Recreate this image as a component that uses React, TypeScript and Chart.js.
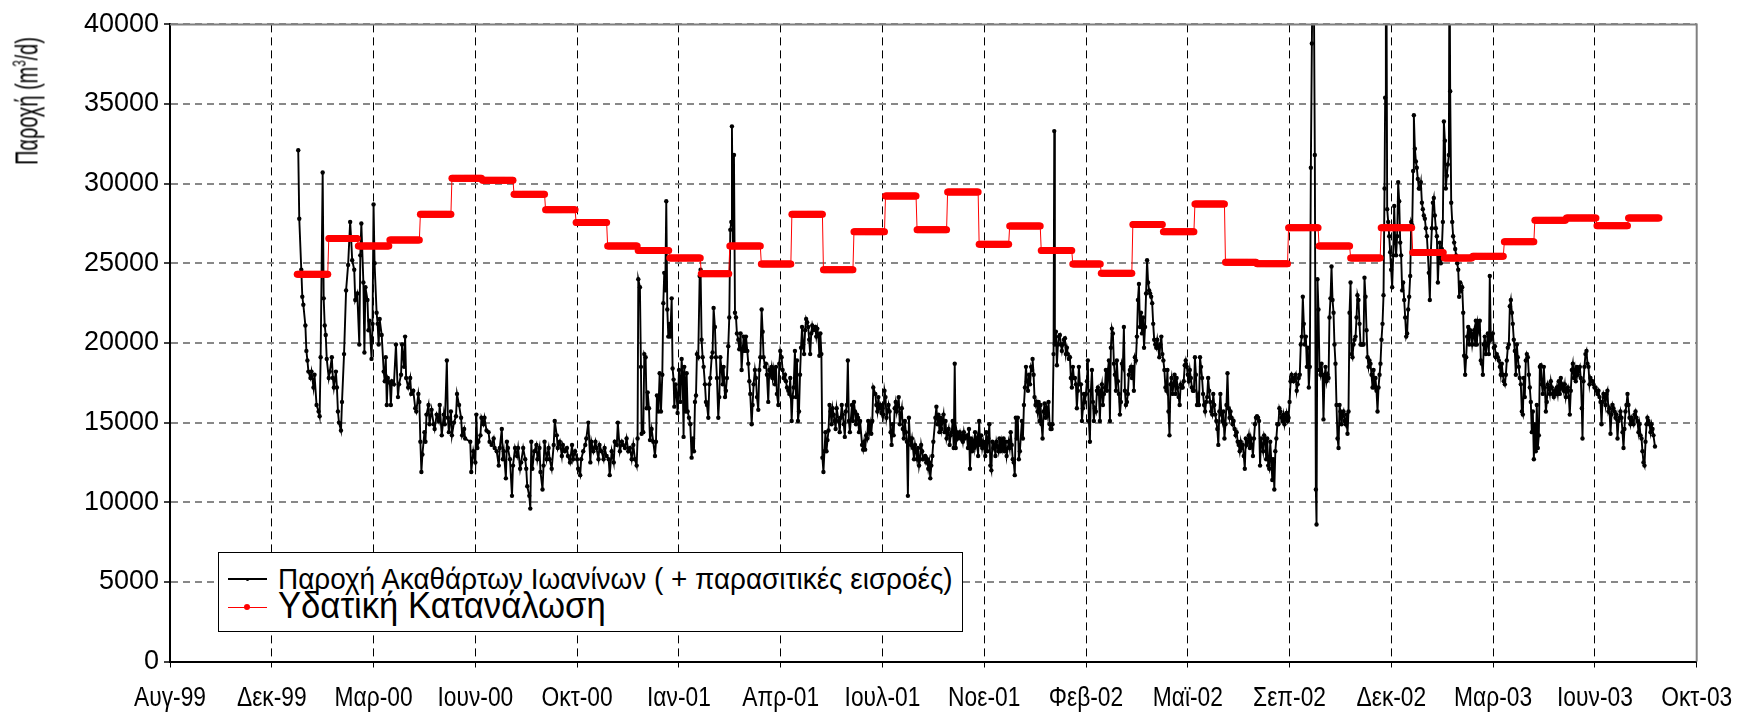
import React, { useEffect, useRef } from 'react';
import { Chart, registerables } from 'chart.js';

Chart.register(...registerables);

// x axis: days counted from 29 Aug 1999 (Excel date axis, major unit 100 days)
const AXIS_START_UTC = Date.UTC(1999, 7, 29);
const xTickLabels = ['Αυγ-99', 'Δεκ-99', 'Μαρ-00', 'Ιουν-00', 'Οκτ-00', 'Ιαν-01', 'Απρ-01', 'Ιουλ-01', 'Νοε-01', 'Φεβ-02', 'Μαϊ-02', 'Σεπ-02', 'Δεκ-02', 'Μαρ-03', 'Ιουν-03', 'Οκτ-03'];
const xTickStepDays = 100;
const yTickValues = [0, 5000, 10000, 15000, 20000, 25000, 30000, 35000, 40000];

const seriesFlowLabel = 'Παροχή Ακαθάρτων Ιωανίνων ( + παρασιτικές εισροές)';
const seriesWaterLabel = 'Υδατική Κατανάλωση';

// Monthly water consumption (m3/d), Jan 2000 – Aug 2003
const consumption2000 = [24320, 26560, 26080, 26460, 28080, 30340, 30210, 29340, 28360, 27570, 26080, 25810];
const consumption2001 = [25330, 24340, 26080, 24960, 28080, 24590, 26980, 29220, 27100, 29480, 26200, 27340];
const consumption2002 = [25800, 24960, 24370, 27430, 26980, 28730, 25060, 24970, 27240, 26080, 25330, 27240];
const consumption2003 = [25680, 25330, 25450, 26350, 27700, 27850, 27360, 27850];

// Daily sewage flow (m3/d): [day since 29 Aug 1999, value]
const flowJan00Jun00: [number, number][] = [[126,32100],[127,27800],[129,24600],[130,22900],[131,22400],[133,21100],[134,19500],[135,18900],[136,18200],[138,17800],[139,18200],[141,17200],[142,18000],[144,16100],[146,15700],[147,15400],[148,19100],[150,30700],[151,22800],[152,21100],[153,20500],[154,19000],[156,17800],[157,18200],[159,19100],[160,17800],[161,17200],[163,18200],[164,17200],[165,15700],[166,15000],[168,14500],[169,16300],[171,19300],[173,23300],[175,24900],[177,27600],[178,26500],[179,25200],[181,24600],[182,22700],[184,23100],[186,19900],[187,25500],[188,27500],[190,23800],[191,19400],[192,23500],[194,22700],[195,20800],[196,21400],[198,19000],[199,21200],[200,28700],[201,25000],[203,21900],[204,21200],[205,19900],[206,21500],[208,20500],[210,18200],[211,17600],[212,19100],[213,16100],[214,17800],[216,17500],[217,16100],[218,17600],[220,17400],[222,19900],[224,16600],[225,17400],[227,18000],[228,19900],[230,18500],[231,20400],[232,17800],[234,17200],[236,17800],[237,16800],[239,17000],[241,15900],[242,15700],[244,16800],[245,16300],[246,13800],[247,11900],[248,13000],[250,14400],[251,13800],[252,15500],[254,16100],[255,14900],[257,15800],[259,14900],[260,14600],[262,15500],[264,15100],[265,16100],[267,14200],[269,15500],[270,14900],[272,18900],[273,15300],[274,14400],[276,15700],[277,14200],[279,15000],[281,15400],[282,16800],[284,16100],[286,15300],[287,14200],[289,14600],[290,14000]];
const flowJun00Nov00: [number, number][] = [[295,13800],[296,11900],[298,13200],[300,12500],[301,15500],[302,13400],[303,13800],[305,14200],[306,15300],[308,14900],[309,15300],[311,14500],[313,14400],[314,13800],[316,13600],[318,14000],[319,13400],[321,13200],[323,12300],[324,13400],[326,14600],[327,12700],[328,13200],[330,11500],[331,13800],[332,13400],[334,12700],[336,10400],[337,12300],[339,13400],[341,12900],[342,13400],[344,12100],[345,12500],[347,13400],[349,12700],[350,12100],[351,11000],[353,10400],[354,9600],[355,13800],[356,12100],[358,13200],[360,13600],[361,12700],[363,13400],[364,11900],[366,10800],[367,12300],[368,13800],[370,12700],[372,13400],[373,12700],[375,12100],[377,13600],[378,15100],[380,14200],[381,13400],[383,13800],[385,12900],[386,13600],[388,13200],[390,13400],[391,12900],[393,12500],[395,13600],[396,12700],[398,13200],[400,12700],[401,12100],[403,11700],[404,12700],[406,13200],[408,13600],[409,14000],[411,15000],[413,12500],[414,13800],[416,13200],[418,13800],[419,13400],[421,12700],[422,13600],[424,13200],[426,12700],[427,13400],[429,12900],[431,12700],[432,11700],[434,13200],[436,12500],[437,13800],[439,13600],[440,15000],[442,13200],[444,13800],[445,13600],[447,13400]];
const flowNov00May01: [number, number][] = [[448.6,14000],[450.3,13200],[451.9,13400],[453.6,12700],[455.2,13600],[456.8,12700],[458.5,12300],[459.4,14000],[460.1,24000],[461.7,23500],[462.7,18500],[463.4,14300],[465,14400],[466,19300],[467.3,19100],[468.3,15900],[469.3,16900],[470.6,15900],[471.6,13900],[473.2,14600],[474.8,13800],[476.5,12900],[477.5,13800],[478.4,16700],[479.8,15700],[481.1,18100],[482.4,15700],[483.7,18000],[484.7,22500],[485.6,24400],[486.6,23300],[487.6,28900],[488.6,22100],[489.6,20400],[490.6,21200],[491.5,20400],[492.9,22800],[493.8,18400],[494.8,17700],[495.5,16000],[496.8,17400],[497.8,16700],[498.7,15600],[500.1,18300],[501.4,16300],[502.7,19000],[503.7,17800],[504.6,14100],[505.3,18500],[506.6,15700],[507.6,18100],[508.6,15700],[509.9,15300],[511.2,14900],[512.5,12800],[513.8,14000],[514.8,13200],[515.8,16300],[516.8,16700],[517.7,19300],[519,19100],[520.4,24200],[521.3,24600],[522.3,20200],[523.3,19100],[524.3,18500],[525.6,17400],[526.6,16300],[527.6,16100],[528.9,15300],[529.9,17400],[530.8,17800],[532.2,19100],[533.1,19400],[534.1,22200],[535.4,21000],[536.4,19100],[537.4,17800],[538.7,15300],[539.7,16600],[540.7,19100],[542,18300],[543,17400],[543.9,18500],[545.3,16600],[546.2,17000],[547.2,17800],[548.5,19800],[549.5,21600],[550.5,27100],[551.5,27600],[552.1,33600],[553.1,26100],[554.1,31800],[555.1,21900],[556.1,21600],[557,20600],[558.4,20200],[559.3,19600],[560.6,20600],[561.6,18300],[562.6,19500],[563.6,20400],[564.9,19500],[565.9,20400],[567.2,19500],[568.2,18700],[569.2,17600],[570.1,16800],[571.5,14900],[572.4,16100],[573.4,17400],[574.7,18300],[575.7,17800],[576.7,16600],[578,15800],[579,18300],[580,19100],[581.3,22100],[582.3,20700],[583.2,19100],[584.6,18500],[585.5,18700],[586.5,18000],[587.8,16300],[588.8,18300],[589.8,18000],[591.1,18500],[592.1,17800],[593.1,18300],[594.4,17400],[595.4,18500],[596.3,16800],[597.7,16100],[598.6,18700],[599.6,19500],[600.9,19100],[601.9,18300],[602.9,17800],[604.2,18000],[605.2,17600],[606.2,17200],[607.5,17000],[608.5,16800],[609.4,17800],[610.8,15100],[611.7,16600],[612.7,17200],[614,19500]];
const flowMay01Oct01: [number, number][] = [[615,16600],[616,18900],[617,15100],[618,15700],[619,18000],[620,19700],[621,21000],[622,19900],[623,19300],[624,20800],[625,21500],[626,21300],[627,21000],[628,20200],[629,19300],[630,20600],[631,21100],[632,20800],[634,21000],[635,20400],[636,20900],[637,20500],[638,19200],[639,20600],[640,19300],[641,12800],[642,11900],[643,13200],[644,14400],[645,13200],[646,13900],[647,14500],[648,16100],[649,15700],[650,14900],[651,15900],[652,15500],[653,15100],[654,14600],[655,15900],[657,15100],[658,14400],[659,15300],[660,16100],[661,15500],[662,14900],[663,14100],[664,15700],[665,16100],[666,18900],[667,15100],[668,14400],[670,16100],[671,15100],[672,16300],[673,15700],[674,14900],[675,15500],[676,15300],[677,14400],[678,15100],[680,13600],[681,13300],[682,13800],[683,13300],[684,14200],[685,14000],[686,15100],[687,14400],[688,14900],[689,14300],[690,15100],[691,17200],[693,16800],[694,16100],[695,15700],[696,16600],[697,15900],[698,16100],[699,15600],[700,15900],[701,15500],[702,17000],[703,16600],[704,15300],[706,16100],[707,15700],[708,14400],[709,13600],[710,14900],[711,14200],[712,15900],[713,16300],[714,15700],[716,16600],[717,14900],[718,15500],[719,15900],[720,14600],[721,14000],[722,15100],[723,14400],[724,13800],[725,10400],[726,15300],[727,14000],[728,13600],[729,14000],[730,13400],[731,12700],[732,13600],[733,13200],[734,12700],[735,13400],[736,12300],[737,12700],[738,13600],[739,13200],[740,12700],[742,12900],[743,12500],[744,12700],[745,12100],[746,12500],[747,11500],[748,12300],[749,12900],[750,13800],[752,15300],[753,16000],[754,14900],[755,15500],[756,14400],[757,15300],[758,14600],[759,15100],[760,15500],[761,14400],[762,15100],[763,14000],[765,14600],[766,13600],[767,14200],[768,14400],[769,15100],[770,13400],[771,18700],[772,13400],[773,14400],[774,14000],[775,14200],[776,14400],[777,14000],[778,14200],[779,13800],[780,14400],[781,14000]];
const flowOct01Apr02: [number, number][] = [[783,14200],[784,13400],[785,14600],[786,12100],[787,14000],[788,13200],[789,13800],[790,13400],[791,14400],[792,13600],[793,14000],[794,12900],[795,15100],[796,13600],[797,14200],[798,13400],[799,13800],[801,12900],[802,14400],[803,13200],[804,14000],[805,14900],[806,12300],[807,12000],[808,13800],[809,13400],[810,13600],[811,12900],[812,13800],[814,13200],[815,14000],[816,13200],[817,13800],[818,13400],[819,14000],[820,13200],[821,13800],[822,12900],[824,13800],[825,13400],[826,14400],[827,13600],[828,12700],[829,12500],[830,11700],[831,15300],[832,14000],[833,15300],[834,12700],[835,13200],[837,15100],[838,14000],[839,16100],[840,17200],[841,18500],[842,17600],[843,17000],[844,18000],[845,17400],[846,18500],[847,18300],[847.5,19000],[848.5,18000],[849.4,16600],[850.4,16100],[851.4,16300],[852.4,15700],[853.4,16300],[854.4,15100],[855.3,16100],[856.3,14900],[857.3,14000],[858.3,15700],[859.3,16200],[860.3,15300],[861.2,15900],[862.2,15500],[863.2,16300],[864.2,14900],[865.2,14600],[866.2,14600],[867.1,14900],[868.1,19300],[868.8,33300],[869.4,19900],[870.4,20700],[871.4,18600],[872.4,19900],[873.4,20400],[874.3,20500],[875.3,19900],[876.3,19500],[877.3,19900],[878.3,20200],[879.3,20300],[880.2,19300],[881.2,19700],[882.2,19300],[883.2,19000],[884.2,19100],[885.1,17800],[886.1,17200],[887.1,18500],[888.1,17800],[889.1,17800],[890.1,17400],[891,15900],[892,17000],[893,18500],[894,17400],[895,17400],[896,15100],[897,15900],[897.9,16800],[898.9,16300],[899.9,16800],[900.9,17600],[901.8,18900],[902.8,15100],[903.8,13800],[904.8,17000],[905.8,18300],[906.8,16300],[907.7,15100],[908.7,15900],[909.7,15700],[910.7,17000],[911.7,17200],[912.7,16800],[913.6,15100],[914.6,17000],[915.6,17400],[916.6,16100],[917.6,16800],[918.6,17200],[919.5,18300],[920.5,17000],[921.5,18300],[922.5,18900],[923.5,15100],[924.4,19700],[925.4,20900],[926.4,20600],[927.4,18700],[928.4,18000],[929.4,17000],[930.3,18900],[931.3,17600],[932.3,16800],[933.3,15500],[934.3,16300],[935.3,18700],[936.2,18500],[937.2,21000],[938.2,17000],[939.2,16100],[940.2,16300],[941.1,16800],[942.1,18000],[943.1,18300],[944.1,18500],[945.1,17800],[946,18500],[947,17000],[948,19100]];
const flowApr02Sep02: [number, number][] = [[949,18900],[950,20400],[951,22700],[952,23700],[953,21000],[954,21900],[955,20600],[956,21600],[957,19700],[958,21000],[959,23100],[960,25200],[961,23800],[962,23300],[963,23100],[964,22900],[965,22500],[966,21200],[967,20200],[968,19900],[969,19700],[970,20200],[971,19700],[972,19100],[973,19900],[974,20400],[975,19300],[976,18900],[977,18300],[978,17200],[979,17000],[980,18300],[981,15700],[982,14200],[983,17400],[984,17800],[985,16800],[986,17400],[987,18000],[988,16800],[989,17800],[990,17200],[991,16600],[992,16100],[993,17400],[994,17200],[995,17200],[996,17600],[997,18600],[998,18900],[999,18500],[1000,18000],[1001,17600],[1002,18300],[1003,17800],[1004,17200],[1005,17000],[1006,17000],[1007,19100],[1008,18000],[1009,16100],[1010,16600],[1011,16100],[1012,19100],[1013,18500],[1014,17800],[1015,16800],[1016,16100],[1017,15700],[1018,16300],[1019,16600],[1020,17800],[1021,17000],[1022,16300],[1023,15700],[1024,15500],[1025,16800],[1026,16100],[1027,15500],[1028,15100],[1029,14600],[1030,13600],[1031,15700],[1032,16800],[1033,15500],[1034,15100],[1035,15700],[1036,14000],[1037,14900],[1038,16100],[1039,18100],[1040,15900],[1041,15300],[1042,15700],[1043,15300],[1044,14900],[1045,15100],[1046,14600],[1047,14200],[1048,14400],[1049,13800],[1050,13600],[1051,13200],[1052,13800],[1053,13400],[1054,13600],[1055,12900],[1056,12100],[1057,14000],[1058,13600],[1059,13800],[1060,14200],[1061,13400],[1062,14000],[1063,13600],[1064,12900],[1065,14000],[1066,14900],[1067,15300],[1068,15400],[1069,15300],[1070,15100],[1071,12300],[1072,14000],[1073,13600],[1074,13200],[1075,14200],[1076,14000],[1077,12700],[1078,14000],[1079,12300],[1080,12100],[1081,13800],[1082,12700],[1083,11400],[1084,12700],[1085,10800],[1086,13200],[1087,14000],[1088,14900],[1089,14900],[1090,15900],[1091,15700],[1092,15300],[1093,15100],[1094,15500],[1095,14900],[1096,15300],[1097,15600],[1098,15100],[1099,15300],[1100,16300],[1101,17600],[1102,18000],[1103,17800],[1104,17600],[1105,17800],[1106,18000],[1107,17000],[1108,17400],[1109,17800],[1110,18000],[1111,19900],[1112,20400],[1113,22900],[1114,21200],[1115,19900]];
const flowSep02Mar03: [number, number][] = [[1116,20400],[1117,18500],[1117.9,19700],[1118.9,17200],[1119.9,18500],[1120.9,31000],[1121.9,38800],[1122.9,46000],[1123.8,43000],[1124.8,31800],[1125.8,10800],[1126.5,8600],[1127.4,24000],[1128.4,22100],[1129.4,18300],[1130.4,18000],[1131.4,18700],[1132.4,18000],[1133.3,15200],[1134.3,17800],[1135.3,18500],[1136.3,17600],[1137.3,18000],[1138.3,17800],[1139.2,21600],[1140.2,22800],[1141.2,24800],[1142.2,22700],[1143.2,21900],[1144.1,19900],[1145.1,18700],[1146.1,16100],[1147.1,14000],[1148.1,13400],[1149.1,16100],[1150,15700],[1151,14900],[1152,15500],[1153,15700],[1154,15100],[1155,14900],[1155.9,15500],[1156.9,14300],[1157.9,15700],[1158.9,21900],[1159.9,23800],[1160.9,19300],[1161.8,19100],[1162.8,19900],[1163.8,20200],[1164.8,20400],[1165.8,21600],[1166.7,23000],[1167.7,22700],[1168.7,21200],[1169.7,19900],[1170.7,19900],[1171.7,19900],[1172.6,19900],[1173.6,24100],[1174.6,22900],[1175.6,20800],[1176.6,19100],[1177.6,18500],[1178.5,18900],[1179.5,18700],[1180.5,18000],[1181.5,17200],[1182.5,18300],[1183.4,17200],[1184.4,17800],[1185.4,17000],[1186.4,15700],[1187.4,17200],[1188.4,18000],[1189.3,18700],[1190.3,20200],[1191.3,21200],[1192.3,23000],[1193.3,29700],[1193.9,35400],[1194.6,46000],[1195.2,43000],[1195.9,28400],[1196.9,27600],[1197.9,26700],[1198.8,25700],[1199.8,24600],[1200.8,23500],[1201.8,25500],[1202.8,28600],[1203.8,26300],[1204.7,25500],[1205.7,26700],[1206.7,30100],[1207.7,28900],[1208.7,26300],[1209.6,25500],[1210.6,23300],[1211.6,23800],[1212.6,22700],[1213.6,21600],[1214.6,20400],[1215.5,20600],[1216.5,22100],[1217.5,22900],[1218.5,24200],[1219.5,27600],[1220.5,27400],[1221.4,30800],[1222.1,34300],[1223.1,32200],[1224.1,31400],[1225,31000],[1226,30300],[1227,29700],[1228,29700],[1229,30100],[1230,28800],[1230.9,28400],[1231.9,28000],[1232.9,27800],[1233.9,27200],[1234.9,26700],[1235.8,25700],[1236.8,24400],[1237.8,22700],[1238.8,25700],[1239.8,27200],[1240.8,28800],[1241.7,29100],[1242.7,28000],[1243.7,27200],[1244.7,26700],[1245.7,23800],[1246.7,25500],[1247.6,26300],[1248.6,25000],[1249.6,25900],[1250.6,27600],[1251.6,33900],[1252.6,32700],[1253.5,29700],[1254.5,30500],[1255.5,31200],[1256.5,31800],[1257.1,46000],[1257.8,35800],[1258.8,28800],[1259.8,27600],[1260.7,26700],[1261.7,26300],[1262.7,25900],[1263.7,25500],[1264.7,25000],[1265.7,24600],[1266.6,22900],[1267.6,23800],[1268.6,23300],[1269.6,23500],[1270.6,21900],[1271.5,19200],[1272.5,18000],[1273.5,19100],[1274.5,20400],[1275.5,21000],[1276.5,19900],[1277.4,20800],[1278.4,20600],[1279.4,19900],[1280.4,20400],[1281.4,20800],[1282.4,19900]];
const flowMar03Aug03: [number, number][] = [[1283,21400],[1284,19900],[1284.9,21200],[1285.9,20800],[1286.9,21400],[1287.9,18900],[1288.9,18700],[1289.9,18000],[1290.8,19900],[1291.8,20400],[1292.8,19300],[1293.8,19900],[1294.8,20600],[1295.8,19300],[1296.7,24200],[1297.7,20200],[1298.7,20400],[1299.7,20600],[1300.7,19700],[1301.7,19800],[1302.6,19100],[1303.6,19300],[1304.6,19100],[1305.6,18900],[1306.6,18500],[1307.5,18000],[1308.5,18700],[1309.5,18000],[1310.5,17600],[1311.5,17400],[1312.5,18000],[1313.4,18900],[1314.4,19700],[1315.4,19900],[1316.4,22300],[1317.4,22700],[1318.4,21900],[1319.3,21200],[1320.3,20200],[1321.3,19500],[1322.3,18000],[1323.3,19900],[1324.2,19100],[1325.2,18500],[1326.2,17800],[1327.2,17400],[1328.2,15700],[1329.2,15500],[1330.1,17800],[1331.1,16600],[1332.1,18900],[1333.1,19300],[1334.1,19100],[1335.1,18000],[1336,17200],[1337,16300],[1338,14400],[1339,15700],[1340,12700],[1341,14900],[1341.9,13200],[1342.9,16100],[1343.9,13400],[1344.9,14200],[1345.9,18500],[1346.8,18600],[1347.8,17400],[1348.8,16800],[1349.8,18500],[1350.8,17200],[1351.8,15700],[1352.7,16300],[1353.7,17400],[1354.7,17200],[1355.7,16800],[1356.7,17600],[1357.7,17200],[1358.6,16800],[1359.6,16600],[1360.6,17000],[1361.6,16800],[1362.6,17200],[1363.5,16800],[1364.5,17600],[1365.5,16800],[1366.5,17800],[1367.5,17200],[1368.5,17400],[1369.4,17000],[1370.4,17400],[1371.4,16600],[1372.4,17000],[1373.4,17200],[1374.4,16600],[1375.3,15500],[1376.3,17000],[1377.3,18300],[1378.3,18700],[1379.3,17800],[1380.3,18300],[1381.2,17600],[1382.2,18500],[1383.2,18000],[1384.2,18300],[1385.2,18500],[1386.1,17800],[1387.1,15900],[1387.8,14000],[1388.8,17600],[1389.7,18500],[1390.7,19300],[1391.7,19500],[1392.7,18700],[1393.7,18500],[1394.7,17400],[1395.6,17800],[1396.6,17600],[1397.6,17600],[1398.6,17400],[1399.6,17200],[1400.6,17200],[1401.5,17000],[1402.5,16800],[1403.5,17000],[1404.5,16600],[1405.5,16300],[1406.5,14900],[1407.4,16300],[1408.4,16800],[1409.4,16600],[1410.4,16100],[1411.4,16800],[1412.3,17000],[1413.3,15700],[1414.3,15900],[1415.3,14300],[1416.3,15500],[1417.3,16100],[1418.2,15900],[1419.2,15700],[1420.2,15300],[1421.2,15500],[1422.2,14000],[1423.2,15100],[1424.1,15300],[1425.1,15700],[1426.1,15300],[1427.1,14400],[1428.1,13400],[1429,14600],[1430,15700],[1431,16100],[1432,16800],[1433,16100],[1434,15300],[1434.9,14900],[1435.9,15300],[1436.9,15100],[1437.9,14900],[1438.9,15500],[1439.9,15700],[1440.8,15300],[1441.8,15100],[1442.8,14400],[1443.8,14900],[1444.8,14200],[1445.8,14000],[1446.7,13200],[1447.7,12500],[1448.7,12300],[1449.7,13800],[1450.7,14900],[1451.6,15300],[1452.6,15100],[1453.6,14900],[1454.6,14400],[1455.6,14900],[1456.6,14600],[1457.5,14200],[1459,13500]];

const FONT_MAIN = "'Liberation Sans', Arial, sans-serif";

function buildConsumption() {
  const years: [number, number[]][] = [[2000, consumption2000], [2001, consumption2001], [2002, consumption2002], [2003, consumption2003]];
  const pts: { x: number; y: number }[] = [];
  years.forEach(([year, values]) => {
    values.forEach((v, m) => {
      const first = Date.UTC(year, m, 1);
      const nDays = new Date(Date.UTC(year, m + 1, 0)).getUTCDate();
      const d0 = Math.round((first - AXIS_START_UTC) / 86400000);
      for (let d = 0; d < nDays; d++) pts.push({ x: d0 + d, y: v });
    });
  });
  return pts;
}

function buildFlow() {
  return [flowJan00Jun00, flowJun00Nov00, flowNov00May01, flowMay01Oct01, flowOct01Apr02, flowApr02Sep02, flowSep02Mar03, flowMar03Aug03]
    .flat()
    .map(([x, y]) => ({ x, y }));
}

// Gray top/right frame of the Excel plot area
const framePlugin = {
  id: 'excelFrame',
  afterDraw(chart: any) {
    const { ctx, chartArea } = chart;
    const { left, top, right, bottom } = chartArea;
    ctx.save();
    ctx.strokeStyle = '#808080';
    ctx.lineWidth = 2;
    ctx.beginPath();
    ctx.moveTo(left, top);
    ctx.lineTo(right, top);
    ctx.lineTo(right, bottom);
    ctx.stroke();
    ctx.restore();
  },
};

// Condensed x tick labels placed at the x scale's tick positions
const xLabelPlugin = {
  id: 'condensedXLabels',
  afterDraw(chart: any) {
    const scale = chart.scales.x;
    const ctx = chart.ctx;
    ctx.save();
    ctx.font = `27px ${FONT_MAIN}`;
    ctx.fillStyle = '#000';
    ctx.textAlign = 'center';
    ctx.textBaseline = 'alphabetic';
    const sx = 72 / ctx.measureText(xTickLabels[0]).width;
    scale.ticks.forEach((t: any) => {
      const label = xTickLabels[Math.round(t.value / xTickStepDays)];
      if (!label) return;
      const x = scale.getPixelForValue(t.value);
      ctx.save();
      ctx.translate(x, 706);
      ctx.scale(sx, 1);
      ctx.fillText(label, 0, 0);
      ctx.restore();
    });
    ctx.restore();
  },
};

export default function App() {
  const canvasRef = useRef<HTMLCanvasElement>(null);

  useEffect(() => {
    const canvas = canvasRef.current;
    if (!canvas) return;
    const chart = new Chart(canvas, {
      type: 'line',
      data: {
        datasets: [
          {
            label: seriesWaterLabel,
            data: buildConsumption(),
            borderColor: '#ff0000',
            backgroundColor: '#ff0000',
            borderWidth: 1,
            pointRadius: 3.5,
            pointBorderWidth: 0,
            pointBackgroundColor: '#ff0000',
            tension: 0,
          },
          {
            label: seriesFlowLabel,
            data: buildFlow(),
            borderColor: '#000000',
            backgroundColor: '#000000',
            borderWidth: 1.9,
            pointRadius: 2.2,
            pointBorderWidth: 0,
            pointBackgroundColor: '#000000',
            tension: 0,
          },
        ],
      },
      options: {
        responsive: false,
        animation: false,
        devicePixelRatio: 1,
        events: [],
        layout: { padding: { top: 24.4, right: 43.3, left: 0, bottom: 0 } },
        plugins: { legend: { display: false }, tooltip: { enabled: false } },
        scales: {
          x: {
            type: 'linear',
            min: 0,
            max: xTickStepDays * (xTickLabels.length - 1),
            afterBuildTicks: (scale: any) => {
              scale.ticks = xTickLabels.map((_, i) => ({ value: i * xTickStepDays }));
            },
            afterFit: (scale: any) => {
              scale.height = 50.5;
            },
            ticks: { display: false },
            grid: { color: '#000', lineWidth: 1, tickLength: 6, tickColor: '#000', tickWidth: 1 },
            border: { display: true, color: '#000', width: 2, dash: [8, 5] },
          },
          y: {
            min: 0,
            max: 40000,
            afterBuildTicks: (scale: any) => {
              scale.ticks = yTickValues.map((v) => ({ value: v }));
            },
            afterFit: (scale: any) => {
              scale.width = 170;
            },
            ticks: {
              padding: 5,
              color: '#000',
              font: { family: FONT_MAIN, size: 27 },
              callback: (value: any) => String(value),
            },
            grid: { color: '#888888', lineWidth: 2, tickLength: 6, tickColor: '#000', tickWidth: 1.5 },
            border: { display: true, color: '#000', width: 2, dash: [7, 5] },
          },
        },
      },
      plugins: [framePlugin, xLabelPlugin],
    } as any);

    document.querySelectorAll<HTMLElement>('[data-fit]').forEach((el) => {
      const w = el.offsetWidth;
      const target = Number(el.dataset.fit);
      if (w > 0) el.style.transform = `scaleX(${target / w})`;
    });

    return () => chart.destroy();
  }, []);

  return (
    <div style={{ position: 'absolute', left: 0, top: 0, width: 1740, height: 712, background: '#fff' }}>
      <canvas ref={canvasRef} width={1740} height={712} style={{ display: 'block', width: 1740, height: 712 }} />
      <div
        style={{
          position: 'absolute', left: 27, top: 101, transform: 'translate(-50%, -50%) rotate(-90deg)',
          whiteSpace: 'nowrap', fontFamily: FONT_MAIN, fontSize: 31, lineHeight: 1, color: '#000',
        }}
      >
        <span data-fit="128" style={{ display: 'inline-block', transformOrigin: 'center center' }}>
          Παροχή (m<sup style={{ fontSize: 18, verticalAlign: 12, lineHeight: 0 }}>3</sup>/d)
        </span>
      </div>
      <div
        style={{
          position: 'absolute', left: 217.5, top: 551.5, width: 745, height: 80, boxSizing: 'border-box',
          border: '1px solid #000', background: '#fff',
        }}
      >
        <div style={{ position: 'absolute', left: 9, top: 25.5, width: 39, height: 2, background: '#000' }} />
        <div style={{ position: 'absolute', left: 27, top: 25, width: 3, height: 3, borderRadius: 2, background: '#000' }} />
        <span
          data-fit="675"
          style={{ position: 'absolute', left: 59.5, top: 11.5, fontFamily: FONT_MAIN, fontSize: 30, lineHeight: 1, whiteSpace: 'nowrap', transformOrigin: 'left center', color: '#000' }}
        >
          {seriesFlowLabel}
        </span>
        <div style={{ position: 'absolute', left: 9, top: 54, width: 39, height: 1, background: '#ff0000' }} />
        <div style={{ position: 'absolute', left: 25.5, top: 51.5, width: 6, height: 6, borderRadius: 3, background: '#ff0000' }} />
        <span
          data-fit="328"
          style={{ position: 'absolute', left: 59.5, top: 35.5, fontFamily: FONT_MAIN, fontSize: 36, lineHeight: 1, whiteSpace: 'nowrap', transformOrigin: 'left center', color: '#000' }}
        >
          {seriesWaterLabel}
        </span>
      </div>
    </div>
  );
}
